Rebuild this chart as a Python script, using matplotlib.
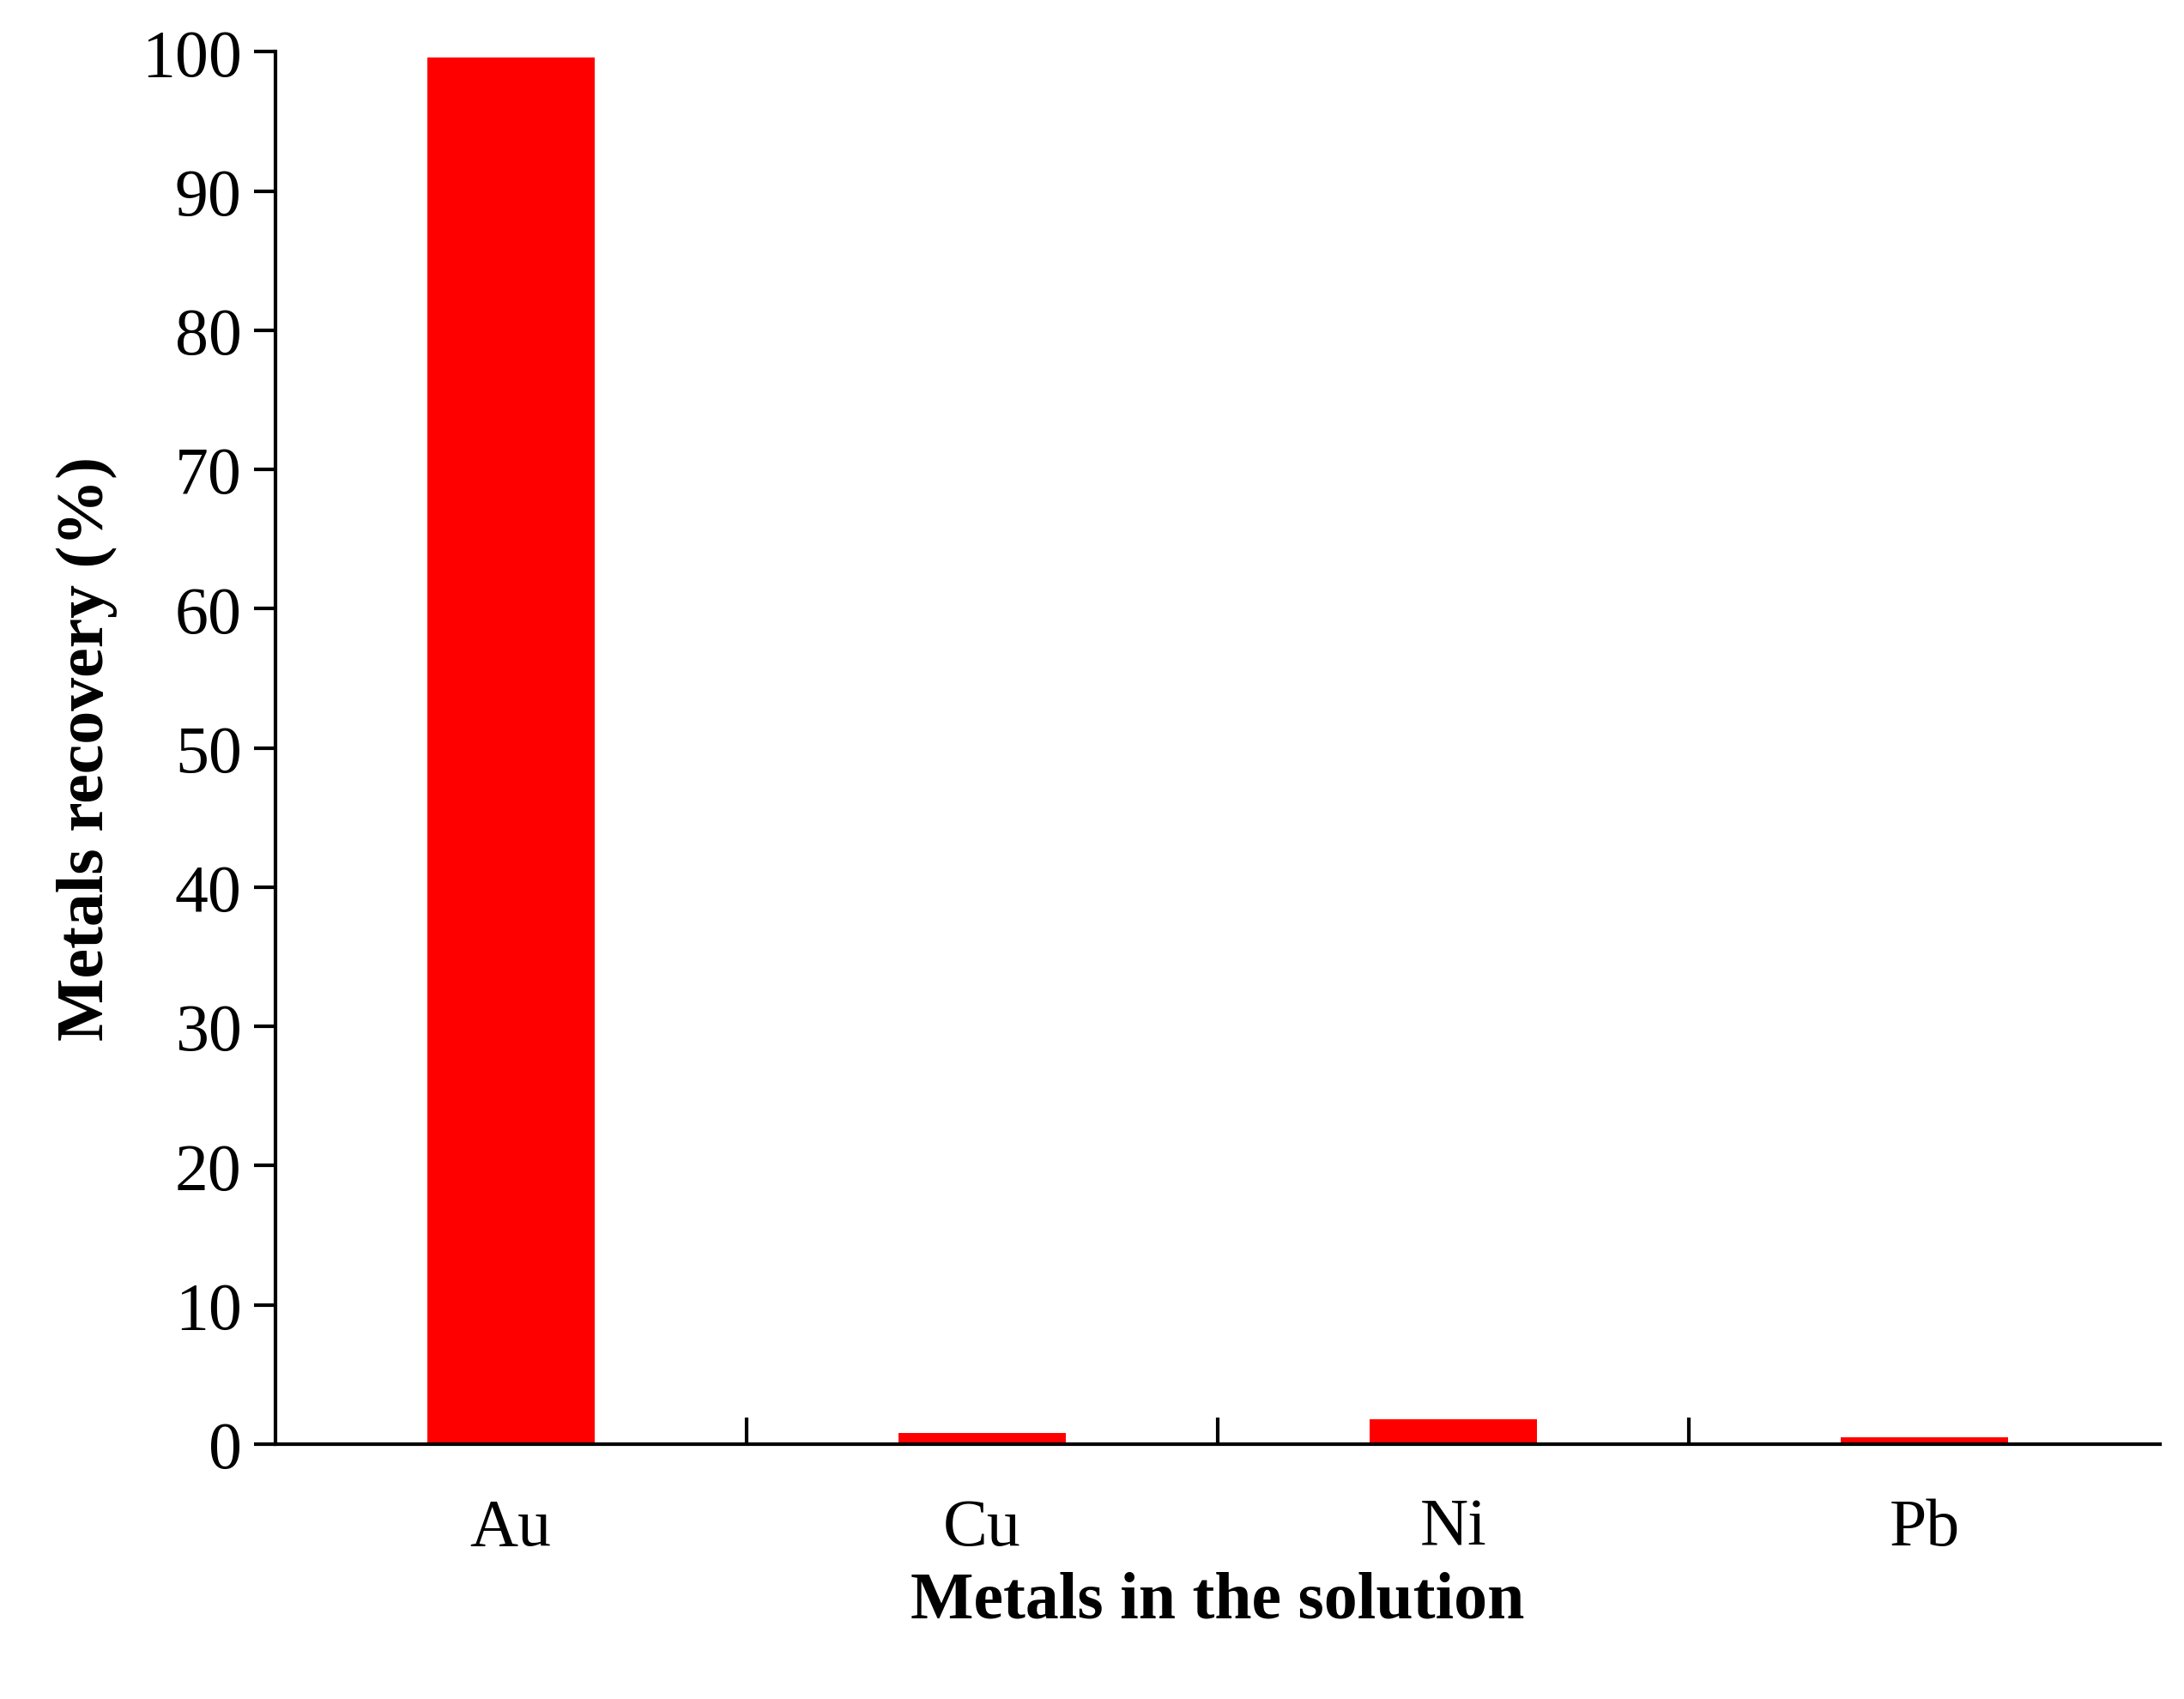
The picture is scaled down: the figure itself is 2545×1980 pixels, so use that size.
import matplotlib.pyplot as plt
import numpy as np

metals = ['Au', 'Cu', 'Ni', 'Pb']
recovery = [99.6, 0.8, 1.8, 0.5]
y_ticks = [0, 10, 20, 30, 40, 50, 60, 70, 80, 90, 100]

plt.rcParams['font.family'] = ['Liberation Serif', 'DejaVu Serif']

fig = plt.figure(figsize=(25.45, 19.81), dpi=100)
ax = fig.add_axes([0.126, 0.150, 0.863, 0.819])

x = np.arange(len(metals))
ax.bar(x, recovery, width=0.355, color='#FF0000')

ax.set_xlim(-0.5, len(metals) - 0.5)
ax.set_ylim(0, 100)
ax.set_yticks(y_ticks)
ax.tick_params(axis='y', labelsize=56, length=18, width=3, direction='out', pad=10)

# category boundary ticks pointing up, labels centered on bars
ax.set_xticks(x[1:] - 0.5)
ax.set_xticklabels([])
ax.tick_params(axis='x', which='major', length=22, width=3, direction='in')
ax.set_xticks(x, minor=True)
ax.set_xticklabels(metals, minor=True, fontsize=56)
ax.tick_params(axis='x', which='minor', length=0, pad=45)

for side in ['top', 'right']:
    ax.spines[side].set_visible(False)
for side in ['left', 'bottom']:
    ax.spines[side].set_linewidth(3)

ax.set_ylabel('Metals recovery (%)', fontsize=56, fontweight='bold', labelpad=20)
ax.set_xlabel('Metals in the solution', fontsize=56, fontweight='bold', labelpad=10)

fig.savefig('out.png', dpi=100)
